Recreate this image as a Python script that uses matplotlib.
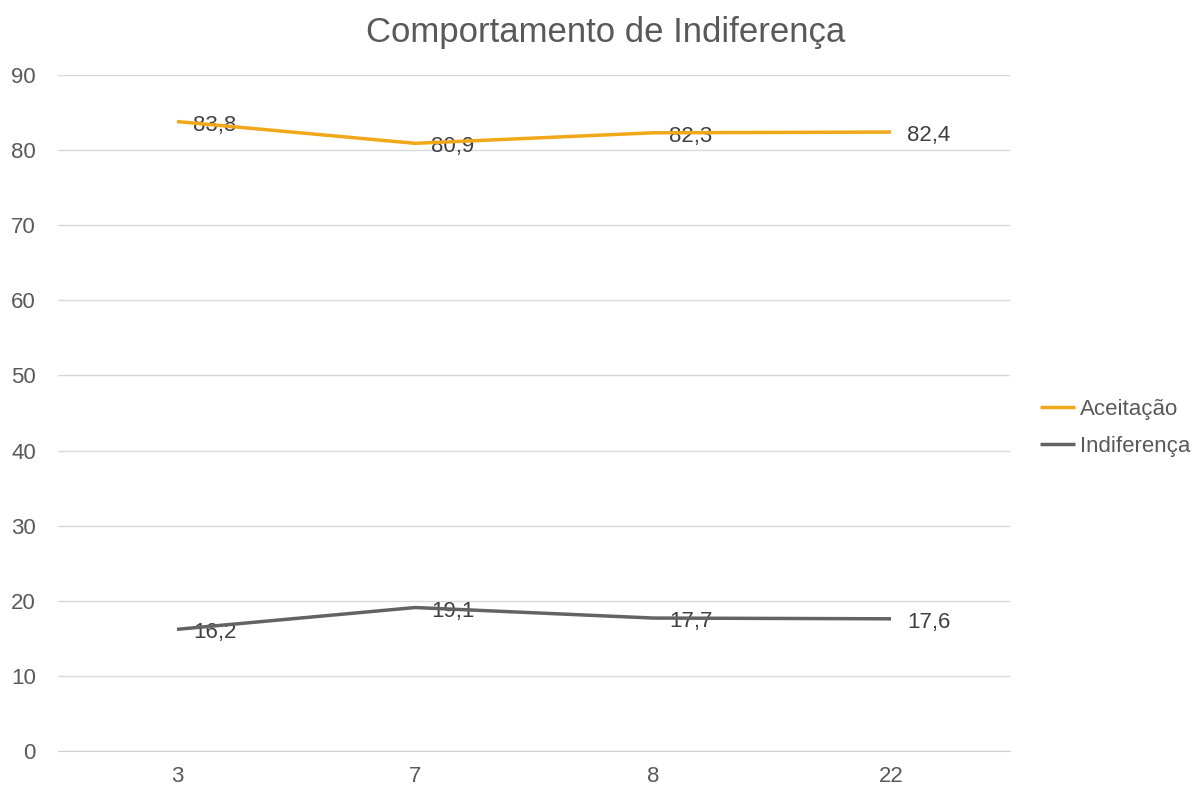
import matplotlib.pyplot as plt

# Dados
categorias = ["3", "7", "8", "22"]
aceitacao = [83.8, 80.9, 82.3, 82.4]
indiferenca = [16.2, 19.1, 17.7, 17.6]

plt.rcParams['font.family'] = ['Liberation Sans', 'DejaVu Sans']
cinza = "#595959"

fig = plt.figure(figsize=(11.94, 7.85), dpi=100)
ax = fig.add_axes([0.0486, 0.0433, 0.7973, 0.8612])

x = range(len(categorias))
ax.plot(x, aceitacao, color="#F0A818", lw=2.5, label="Aceitação", zorder=3, solid_capstyle="butt")
ax.plot(x, indiferenca, color="#636363", lw=2.5, label="Indiferença", zorder=3, solid_capstyle="butt")

# Rótulos de dados (vírgula decimal)
for serie in (aceitacao, indiferenca):
    for i, v in enumerate(serie):
        ax.annotate(f"{v:.1f}".replace(".", ","), (i, v), xytext=(11.5, -2.5),
                    textcoords="offset points", va="center", ha="left",
                    fontsize=16, color="#404040", zorder=2)

ax.set_xlim(-0.5, len(categorias) - 0.5)
ax.set_ylim(0, 90)
ax.set_yticks(range(0, 91, 10))
ax.set_xticks(list(x))
ax.set_xticklabels(categorias)
ax.grid(axis="y", color="#D9D9D9", lw=1)
ax.set_axisbelow(True)
for s in ("top", "right", "left"):
    ax.spines[s].set_visible(False)
ax.spines["bottom"].set_color("#D0D0D0")
ax.tick_params(length=0, labelsize=16, labelcolor=cinza)
ax.tick_params(axis="x", pad=11)
ax.tick_params(axis="y", pad=16)

fig.suptitle("Comportamento de Indiferença", fontsize=25, color=cinza, x=0.507, y=0.98)

ax.legend(loc="center left", bbox_to_anchor=(1.031, 0.478), frameon=False,
          fontsize=16, labelcolor=cinza, handlelength=1.6, handletextpad=0.2,
          labelspacing=0.7, borderpad=0, borderaxespad=0)

fig.savefig("out.png", dpi=100)
